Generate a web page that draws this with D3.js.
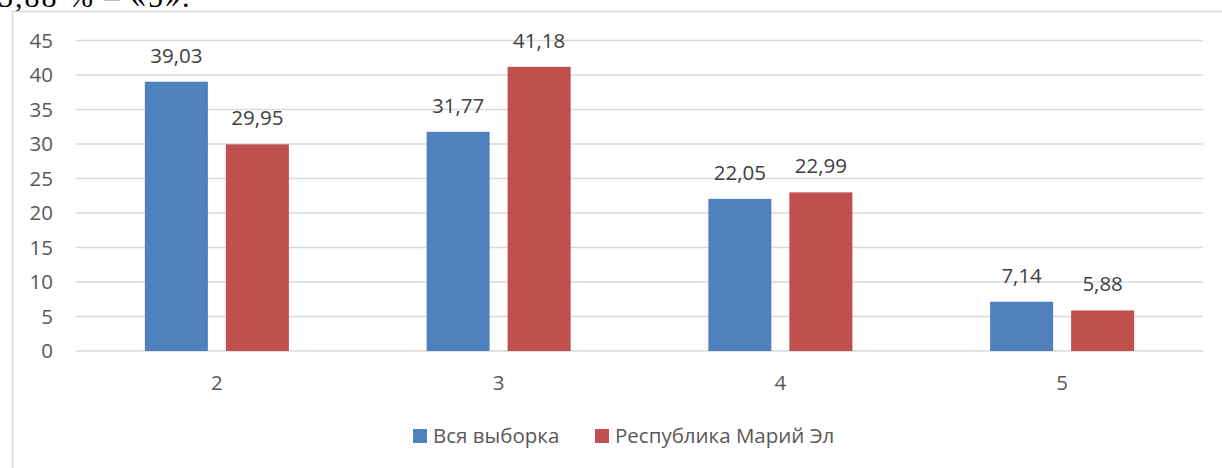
<!DOCTYPE html>
<html>
<head>
<meta charset="utf-8">
<script src="https://cdn.jsdelivr.net/npm/d3@7"></script>
<style>
  body { margin: 0; background: #fff; }
  svg { display: block; }
</style>
</head>
<body>
<div id="chart"></div>
<script>
// Data
const categories = ['2', '3', '4', '5']
const seriesNames = ['Вся выборка', 'Республика Марий Эл']
const allSample = [39.03, 31.77, 22.05, 7.14]
const mariEl = [29.95, 41.18, 22.99, 5.88]
const yTicks = [0, 5, 10, 15, 20, 25, 30, 35, 40, 45]
const colors = ['#4f81bd', '#c0504d']

const width = 1222
const height = 468
const font = '"Open Sans", sans-serif'
const fontSize = 20.5

const svg = d3.select('#chart').append('svg')
    .attr('width', width)
    .attr('height', height)

// cut off text line from the document above the chart
svg.append('text')
    .attr('x', -2)
    .attr('y', 7)
    .attr('font-family', '"Liberation Serif", serif')
    .attr('font-size', 30)
    .attr('letter-spacing', 2)
    .attr('fill', '#000')
    .text('5,88 % – «5».')

// chart frame
svg.append('rect')
    .attr('x', 12.5)
    .attr('y', 11.5)
    .attr('width', 1300)
    .attr('height', 600)
    .attr('fill', 'none')
    .attr('stroke', '#d9d9d9')
    .attr('stroke-width', 1.5)

const plotLeft = 76, plotRight = 1203

const y = d3.scaleLinear()
    .domain([0, 45])
    .range([351, 40.5])

const x0 = d3.scaleBand()
    .domain(categories)
    .range([plotLeft, plotRight])

const x1 = d3.scaleBand()
    .domain(seriesNames)
    .range([0, x0.bandwidth()])
    .paddingInner(0.222)
    .paddingOuter(0.85)

// gridlines
svg.append('g')
    .selectAll('line')
    .data(yTicks)
    .join('line')
    .attr('x1', plotLeft)
    .attr('x2', plotRight)
    .attr('y1', d => y(d))
    .attr('y2', d => y(d))
    .attr('stroke', '#d9d9d9')
    .attr('stroke-width', 1.5)

// y tick labels
svg.append('g')
    .selectAll('text')
    .data(yTicks)
    .join('text')
    .attr('x', 53)
    .attr('y', d => y(d))
    .attr('dy', '0.35em')
    .attr('text-anchor', 'end')
    .attr('font-family', font)
    .attr('font-size', fontSize)
    .attr('fill', '#595959')
    .text(d => d)

// bars
const rows = categories.map((c, i) => ({ cat: c, values: [allSample[i], mariEl[i]] }))

const groups = svg.append('g')
    .selectAll('g')
    .data(rows)
    .join('g')
    .attr('transform', d => `translate(${x0(d.cat)},0)`)

groups.selectAll('rect')
    .data(d => d.values.map((v, j) => ({ name: seriesNames[j], value: v, j: j })))
    .join('rect')
    .attr('x', d => x1(d.name))
    .attr('width', x1.bandwidth())
    .attr('y', d => y(d.value))
    .attr('height', d => y(0) - y(d.value))
    .attr('fill', d => colors[d.j])

// value labels
groups.selectAll('text')
    .data(d => d.values.map((v, j) => ({ name: seriesNames[j], value: v, j: j })))
    .join('text')
    .attr('x', d => x1(d.name) + x1.bandwidth() / 2)
    .attr('y', d => y(d.value) - 19)
    .attr('text-anchor', 'middle')
    .attr('font-family', font)
    .attr('font-size', fontSize)
    .attr('fill', '#404040')
    .text(d => d.value.toFixed(2).replace('.', ','))

// x labels
svg.append('g')
    .selectAll('text')
    .data(categories)
    .join('text')
    .attr('x', d => x0(d) + x0.bandwidth() / 2)
    .attr('y', 390)
    .attr('text-anchor', 'middle')
    .attr('font-family', font)
    .attr('font-size', fontSize)
    .attr('fill', '#595959')
    .text(d => d)

// legend
const legendX = [413, 595]
const legend = svg.append('g')
    .selectAll('g')
    .data(seriesNames)
    .join('g')
    .attr('transform', (d, i) => `translate(${legendX[i]},429)`)

legend.append('rect')
    .attr('width', 14)
    .attr('height', 14)
    .attr('fill', (d, i) => colors[i])

legend.append('text')
    .attr('x', 20)
    .attr('y', 14)
    .attr('font-family', font)
    .attr('font-size', fontSize)
    .attr('fill', '#595959')
    .text(d => d)
</script>
</body>
</html>
